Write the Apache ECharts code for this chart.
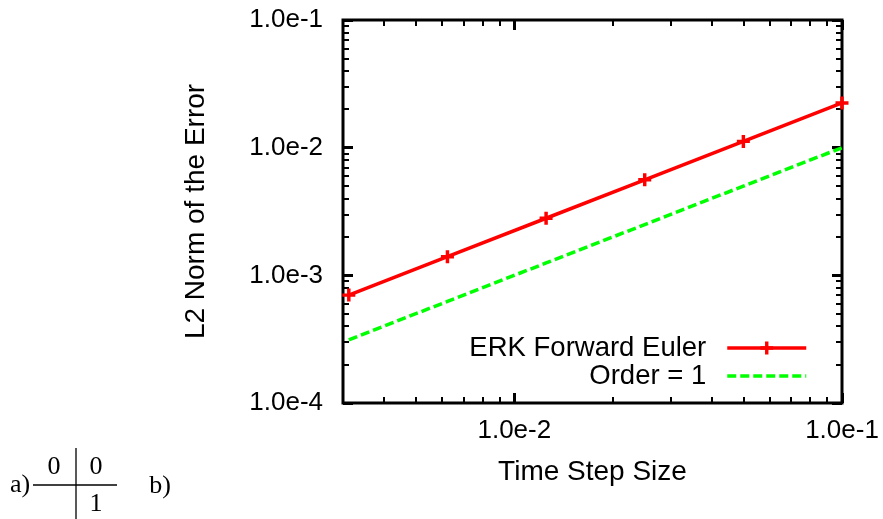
<!DOCTYPE html>
<html>
<head>
<meta charset="utf-8">
<script src="https://cdn.jsdelivr.net/npm/echarts@6/dist/echarts.min.js"></script>
<style>
html,body{margin:0;padding:0;background:#fff;}
#chart{width:883px;height:519px;}
</style>
</head>
<body>
<div id="chart"></div>
<script>
// ---- data ----
const stepSizes = [0.003125, 0.00625, 0.0125, 0.025, 0.05, 0.1];
const erkErrors = [7.0e-4, 1.4e-3, 2.8e-3, 5.6e-3, 1.12e-2, 2.24e-2];
const orderOne = [3.125e-4, 6.25e-4, 1.25e-3, 2.5e-3, 5.0e-3, 1.0e-2];
const xMajorTicks = [0.01, 0.1];
const xMinorTicks = [0.004, 0.005, 0.006, 0.007, 0.008, 0.009, 0.02, 0.03, 0.04, 0.05, 0.06, 0.07, 0.08, 0.09];
const yMajorTicks = [1e-4, 1e-3, 1e-2, 1e-1];
const yMinorTicks = [2e-4, 3e-4, 4e-4, 5e-4, 6e-4, 7e-4, 8e-4, 9e-4,
                     2e-3, 3e-3, 4e-3, 5e-3, 6e-3, 7e-3, 8e-3, 9e-3,
                     2e-2, 3e-2, 4e-2, 5e-2, 6e-2, 7e-2, 8e-2, 9e-2];
const seriesNames = ['ERK Forward Euler', 'Order = 1'];
const xTitle = 'Time Step Size';
const yTitle = 'L2 Norm of the Error';

const FONT = 'Liberation Sans';
const SERIF = 'Liberation Serif';
const fmt = v => Number(v).toExponential(1);

function axis(kind, pos, ticks, len, width, withLabels, name) {
  const isX = kind === 'x';
  const a = {
    type: 'log',
    logBase: 10,
    min: isX ? 0.003 : 1e-4,
    max: isX ? 0.1 : 1e-1,
    position: pos,
    axisLine: { show: false },
    splitLine: { show: false },
    minorTick: { show: false },
    minorSplitLine: { show: false },
    axisTick: {
      show: true, inside: true, length: len,
      lineStyle: { color: '#000', width: width },
      customValues: ticks
    },
    axisLabel: withLabels ? {
      show: true, customValues: ticks, formatter: fmt,
      fontFamily: FONT, fontSize: 26, color: '#000',
      margin: isX ? 15 : 20
    } : { show: false }
  };
  if (name) {
    a.name = name;
    a.nameLocation = 'middle';
    a.nameGap = isX ? 55 : 133;
    a.nameTextStyle = { fontFamily: FONT, fontSize: 28, color: '#000' };
  }
  return a;
}

const chart = echarts.init(document.getElementById('chart'), null, { renderer: 'canvas' });
const option = {
  backgroundColor: '#fff',
  animation: false,
  grid: {
    left: 343, right: 41, top: 20, bottom: 116,
    show: true, borderColor: '#000', borderWidth: 3, backgroundColor: 'transparent',
    containLabel: false, outerBoundsMode: 'none'
  },
  xAxis: [
    axis('x', 'bottom', xMajorTicks, 10, 3, true, xTitle),
    axis('x', 'bottom', xMinorTicks, 6, 2, false),
    axis('x', 'top', xMajorTicks, 10, 3, false),
    axis('x', 'top', xMinorTicks, 6, 2, false)
  ],
  yAxis: [
    axis('y', 'left', yMajorTicks, 10, 3, true, yTitle),
    axis('y', 'left', yMinorTicks, 6, 2, false),
    axis('y', 'right', yMajorTicks, 10, 3, false),
    axis('y', 'right', yMinorTicks, 6, 2, false)
  ],
  legend: {
    orient: 'vertical',
    align: 'right',
    right: 75,
    top: 334,
    padding: 0,
    itemGap: 0,
    itemWidth: 79,
    itemHeight: 16,
    data: [
      { name: seriesNames[0], lineStyle: { width: 3.5 } },
      { name: seriesNames[1], itemStyle: { opacity: 0 }, lineStyle: { width: 3.5 } }
    ],
    textStyle: { fontFamily: FONT, fontSize: 27.5, color: '#000', padding: [0, 16, 0, 0] }
  },
  series: [
    {
      name: seriesNames[0],
      type: 'line',
      data: stepSizes.map((x, i) => [x, erkErrors[i]]),
      symbol: 'path://M-1.6,-6H1.6V-1.6H6V1.6H1.6V6H-1.6V1.6H-6V-1.6H-1.6Z',
      symbolSize: 13,
      showSymbol: true,
      clip: false,
      lineStyle: { color: '#ff0000', width: 3.5 },
      itemStyle: { color: '#ff0000' }
    },
    {
      name: seriesNames[1],
      type: 'line',
      data: stepSizes.map((x, i) => [x, orderOne[i]]),
      symbol: 'none',
      lineStyle: { color: '#00ff00', width: 3.5, type: [9, 4] },
      itemStyle: { color: '#00ff00' }
    }
  ],
  graphic: [
    { type: 'text', left: 10, top: 472, style: { text: 'a)', font: '26px "' + SERIF + '"', fill: '#000' } },
    { type: 'line', shape: { x1: 33, y1: 485, x2: 117, y2: 485 }, style: { stroke: '#000', lineWidth: 1.3 } },
    { type: 'line', shape: { x1: 76, y1: 448, x2: 76, y2: 519 }, style: { stroke: '#000', lineWidth: 1.3 } },
    { type: 'text', x: 54, y: 467, style: { text: '0', font: '26px "' + SERIF + '"', fill: '#000', align: 'center', verticalAlign: 'middle' } },
    { type: 'text', x: 96, y: 467, style: { text: '0', font: '26px "' + SERIF + '"', fill: '#000', align: 'center', verticalAlign: 'middle' } },
    { type: 'text', x: 96, y: 504, style: { text: '1', font: '26px "' + SERIF + '"', fill: '#000', align: 'center', verticalAlign: 'middle' } },
    { type: 'text', x: 160, y: 486, style: { text: 'b)', font: '26px "' + SERIF + '"', fill: '#000', align: 'center', verticalAlign: 'middle' } }
  ]
};
chart.setOption(option);
</script>
</body>
</html>
